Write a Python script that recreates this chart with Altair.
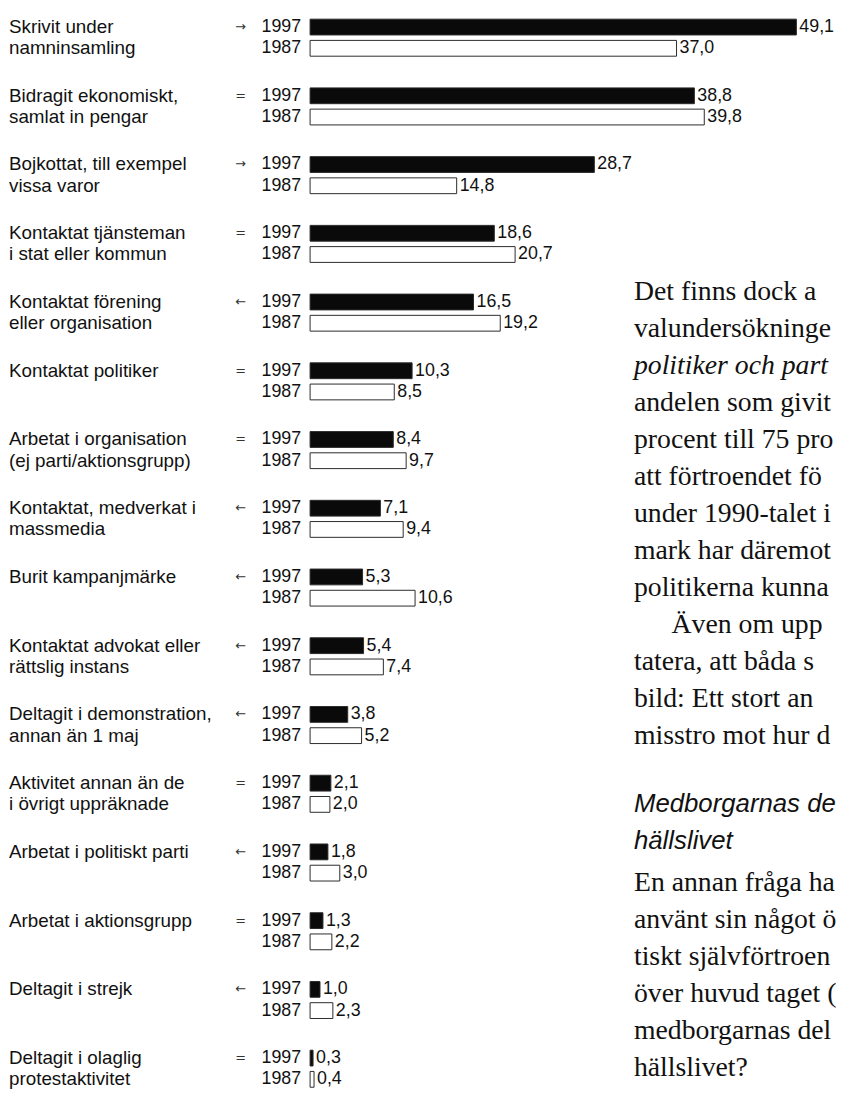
import altair as alt
import pandas as pd

# ---- chart data ----
line1 = ["Skrivit under", "Bidragit ekonomiskt,", "Bojkottat, till exempel", "Kontaktat tjänsteman",
         "Kontaktat förening", "Kontaktat politiker", "Arbetat i organisation", "Kontaktat, medverkat i",
         "Burit kampanjmärke", "Kontaktat advokat eller", "Deltagit i demonstration,", "Aktivitet annan än de",
         "Arbetat i politiskt parti", "Arbetat i aktionsgrupp", "Deltagit i strejk", "Deltagit i olaglig"]
line2 = ["namninsamling", "samlat in pengar", "vissa varor", "i stat eller kommun",
         "eller organisation", "", "(ej parti/aktionsgrupp)", "massmedia",
         "", "rättslig instans", "annan än 1 maj", "i övrigt uppräknade",
         "", "", "", "protestaktivitet"]
trend = ["→", "=", "→", "=", "←", "=", "=", "←", "←", "←", "←", "=", "←", "=", "←", "="]
v1997 = [49.1, 38.8, 28.7, 18.6, 16.5, 10.3, 8.4, 7.1, 5.3, 5.4, 3.8, 2.1, 1.8, 1.3, 1.0, 0.3]
v1987 = [37.0, 39.8, 14.8, 20.7, 19.2, 8.5, 9.7, 9.4, 10.6, 7.4, 5.2, 2.0, 3.0, 2.2, 2.3, 0.4]
years = ["1997", "1987"]

# ---- body text beside the chart ----
body_text = ["Det finns dock a", "valundersökninge", "politiker och part", "andelen som givit",
             "procent till 75 pro", "att förtroendet fö", "under 1990-talet i", "mark har däremot",
             "politikerna kunna", "Även om upp", "tatera, att båda s", "bild: Ett stort an",
             "misstro mot hur d", "Medborgarnas de", "hällslivet", "En annan fråga ha",
             "använt sin något ö", "tiskt självförtroen", "över huvud taget (", "medborgarnas del",
             "hällslivet?"]
body_line = [0, 1, 2, 3, 4, 5, 6, 7, 8, 9, 10, 11, 12, 13.85, 14.85, 16, 17, 18, 19, 20, 21]
body_style = ["roman", "roman", "italic", "roman", "roman", "roman", "roman", "roman", "roman",
              "indent", "roman", "roman", "roman", "heading", "heading", "roman", "roman", "roman",
              "roman", "roman", "roman"]

cats = [(a + " " + b).strip() for a, b in zip(line1, line2)]

rows = []
for i, c in enumerate(cats):
    for y, v, name, arr in (("1997", v1997[i], line1[i], trend[i]), ("1987", v1987[i], line2[i], "")):
        rows.append({"cat": c, "year": y, "value": v,
                     "label": f"{v:.1f}".replace(".", ","),
                     "name": name, "arrow": arr})
df = pd.DataFrame(rows)
tf = pd.DataFrame({"text": body_text, "pos": body_line, "style": body_style})

SANS = "Liberation Sans"
SERIF = "Liberation Serif"
INK = "#111111"

xscale = alt.Scale(domain=[0, 53.1], range=[305, 836])
yscale = alt.Scale(domain=cats, range=[-10, -10 + 16 * 69.4], paddingInner=0, paddingOuter=0)
oscale = alt.Scale(domain=years, paddingInner=0.256, paddingOuter=0.747)

base = alt.Chart(df)
Y = alt.Y("cat:N", scale=yscale, axis=None, sort=cats)
YO = alt.YOffset("year:N", scale=oscale, sort=years)

bars = base.mark_bar(stroke="#2a2a2a", strokeWidth=1).encode(
    x=alt.X("value:Q", scale=xscale, axis=None),
    y=Y, yOffset=YO,
    fill=alt.Fill("year:N", scale=alt.Scale(domain=years, range=["#0a0a0a", "#ffffff"]), legend=None),
)
values = base.mark_text(align="left", baseline="middle", dx=3, font=SANS, fontSize=18, color=INK).encode(
    x=alt.X("value:Q", scale=xscale, axis=None), y=Y, yOffset=YO, text="label:N")
names = base.mark_text(align="left", baseline="middle", font=SANS, fontSize=19, color=INK).encode(
    x=alt.value(1), y=Y, yOffset=YO, text="name:N")
yearlab = base.mark_text(align="right", baseline="middle", font=SANS, fontSize=18, color=INK).encode(
    x=alt.value(296), y=Y, yOffset=YO, text="year:N")
arrows = base.mark_text(align="center", baseline="middle", font="DejaVu Sans", fontSize=13, color="#333").encode(
    x=alt.value(235), y=Y, yOffset=YO, text="arrow:N")

TY = alt.Y("pos:Q", scale=alt.Scale(domain=[0, 21], range=[282, 1065]), axis=None)
tbase = alt.Chart(tf)
t_roman = tbase.transform_filter("datum.style == 'roman'").mark_text(
    align="left", baseline="middle", font=SERIF, fontSize=28, color="#111").encode(
    x=alt.value(632), y=TY, text="text:N")
t_indent = tbase.transform_filter("datum.style == 'indent'").mark_text(
    align="left", baseline="middle", font=SERIF, fontSize=28, color="#111").encode(
    x=alt.value(670), y=TY, text="text:N")
t_italic = tbase.transform_filter("datum.style == 'italic'").mark_text(
    align="left", baseline="middle", font=SERIF, fontStyle="italic", fontSize=28, color="#111").encode(
    x=alt.value(632), y=TY, text="text:N")
t_head = tbase.transform_filter("datum.style == 'heading'").mark_text(
    align="left", baseline="middle", font=SANS, fontStyle="italic", fontSize=26, color="#111").encode(
    x=alt.value(632), y=TY, text="text:N")

chart = alt.layer(bars, values, names, yearlab, arrows, t_roman, t_indent, t_italic, t_head).resolve_scale(
    y="independent"
).properties(
    width=836, height=1090, padding=0,
    autosize=alt.AutoSizeParams(type="none"),
    background="white",
).configure_view(stroke=None)

chart.save("out.html", embed_options={"renderer": "svg", "actions": False})
